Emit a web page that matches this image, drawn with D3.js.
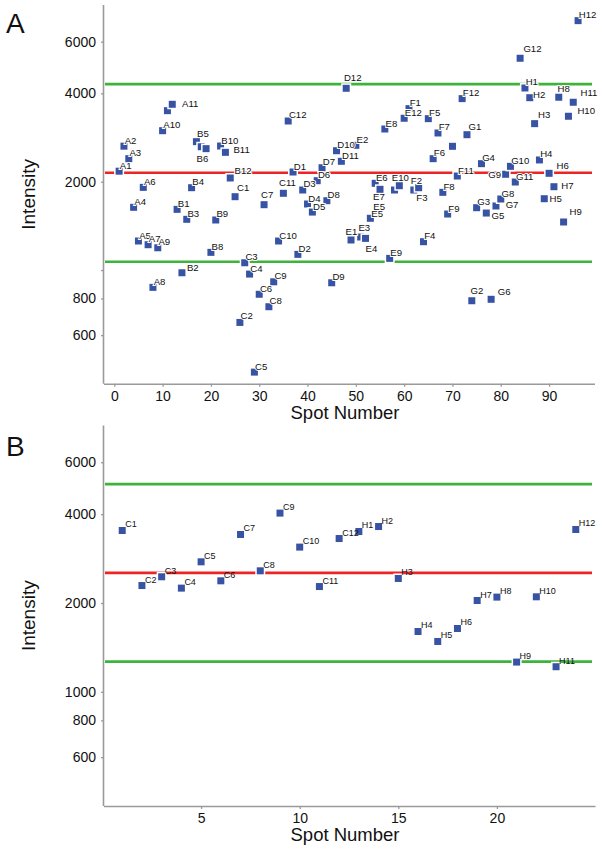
<!DOCTYPE html>
<html><head><meta charset="utf-8">
<script src="https://cdn.jsdelivr.net/npm/d3@7"></script>
<style>
body{margin:0;background:#fff;}
svg{display:block;font-family:"Liberation Sans",Arial,Helvetica,sans-serif;}
</style>
</head><body>
<svg id="chart" width="602" height="853"></svg>
<script>
// ---------------- DATA ----------------
const rows = ["A","B","C","D","E","F","G","H"];
const wellsA = rows.flatMap(r => d3.range(1, 13).map(c => r + c));
const valuesA = [
  2172, 2643, 2396, 1636, 1256, 1913, 1220, 873, 1191, 2984, 3492, 3671,
  1610, 979, 1489, 1908, 2738, 2631, 2592, 1149, 1481, 2646, 2518, 2059,
  1778, 663, 1059, 969, 449, 827, 1670, 750, 912, 1256, 1826, 3220,
  2158, 1131, 1874, 1679, 1576, 2016, 2232, 1723, 905, 2550, 2347, 4162,
  1266, 2661, 1296, 1282, 1501, 1975, 1884, 3024, 1096, 1874, 1938, 3290,
  3548, 1874, 1908, 1249, 3280, 2396, 2931, 1840, 1552, 2640, 2091, 3838,
  2892, 786, 1631, 2304, 1564, 795, 1653, 1746, 2120, 2256, 1995, 5268,
  4172, 3866, 3154, 2372, 1750, 2136, 1923, 3880, 1458, 3342, 3730, 7076
];
const thresholdsA = { upper: 4300, mean: 2146, lower: 1067 };

const wellsB = ["C1","C2","C3","C4","C5","C6","C7","C8","C9","C10","C11","C12",
                "H1","H2","H3","H4","H5","H6","H7","H8","H9","H10","H11","H12"];
const valuesB = [3522, 2292, 2454, 2246, 2758, 2378, 3414, 2571, 4034, 3094, 2274, 3308,
                 3495, 3633, 2422, 1601, 1481, 1639, 2039, 2094, 1261, 2099, 1216, 3550];
const thresholdsB = { upper: 5060, mean: 2530, lower: 1265 };

const yTicks = [600, 800, 1000, 2000, 4000, 6000];
const yTickLabelsA = ["600", "800", "", "2000", "4000", "6000"];
const yTickLabelsB = ["600", "800", "1000", "2000", "4000", "6000"];
const xTicksA = [0, 10, 20, 30, 40, 50, 60, 70, 80, 90];
const xTicksB = [5, 10, 15, 20];
const hiddenLabelsA = ["A12", "B7", "E11", "F10"];
const extraLabelsA = [{ well: "E5", text: "E5" }];

// ---------------- LAYOUT (label placement, not data) ----------------
const defaultOffA = [0.7, -2.5];
const labelOffA = {
  A11:[14.6,-3.4], B2:[5,-2], B5:[0.7,-4.4], B6:[-4.7,15.6], B11:[8,0.5], B12:[4.3,-4],
  C1:[2,-5.4], C2:[0.7,-3.3], C7:[-3,-6.7], C11:[-4.4,-7.6], D12:[-2.3,-7.6],
  E1:[-5.4,-5], E3:[-2.3,-6], E4:[0,14], E5:[1,-1.6], E7:[-7,10.7], E10:[-2.7,-9.3],
  F2:[-3,-6], F3:[-2.3,13], G1:[1.6,-4.7], G2:[-1.3,-6.4], G5:[5.3,6], G6:[6.7,-4],
  G7:[9.7,2], G9:[-17.3,3.4], G12:[3.3,-6.6], H2:[3.3,0.3], H3:[3.4,-5.7], H5:[5.3,3.3],
  H6:[7.4,-4], H7:[7.3,2], H8:[-1.3,-5.3], H9:[6,-7], H10:[9,-2.3], H11:[7.3,-6.3]
};
const extraOffA = { E5: [3, -8] };

const svg = d3.select("#chart");
const markerColor = "#3953a4";
const axisColor = "#9a9a9a";

function drawPanel(cfg) {
  const g = svg.append("g");
  const x = d3.scaleLinear().domain(cfg.xDomain).range([cfg.left, cfg.right]);
  const y = d3.scaleLog().domain([410, 8000]).range([cfg.bottom, cfg.top]);

  // threshold lines
  const th = cfg.thresholds;
  [["upper", "#3cb43c"], ["lower", "#3cb43c"], ["mean", "#ee2424"]].forEach(([k, col]) => {
    g.append("line")
      .attr("x1", cfg.left + 1).attr("x2", cfg.lineEnd)
      .attr("y1", y(th[k])).attr("y2", y(th[k]))
      .attr("stroke", col).attr("stroke-width", 2.6);
  });

  // axes
  const yAxis = d3.axisLeft(y).tickValues(yTicks)
    .tickFormat((d, i) => cfg.yLabels[i]).tickSize(3).tickPadding(5);
  const ya = g.append("g").attr("transform", `translate(${cfg.left},0)`).call(yAxis);
  const xAxis = d3.axisBottom(x).tickValues(cfg.xTicks).tickSize(3).tickPadding(4);
  const xa = g.append("g").attr("transform", `translate(0,${cfg.bottom})`).call(xAxis);
  [ya, xa].forEach(a => {
    a.select(".domain").attr("stroke", axisColor).attr("stroke-width", 1.6);
    a.selectAll(".tick line").attr("stroke", axisColor).attr("stroke-width", 1.3);
    a.selectAll(".tick text").attr("fill", "#111").style("font-size", "14px")
      .style("font-family", '"Liberation Sans",Arial,sans-serif');
  });
  ya.select(".domain").attr("d", `M-0.5,${cfg.bottom}V${cfg.top}`);
  xa.select(".domain").attr("d", `M${cfg.left},0.5H${cfg.right}`);

  // titles
  g.append("text").attr("x", cfg.titleX).attr("y", cfg.bottom + 35)
    .attr("text-anchor", "middle").style("font-size", "18.5px").attr("fill", "#111")
    .text("Spot Number");
  g.append("text")
    .attr("transform", `translate(35,${(cfg.top + cfg.bottom) / 2}) rotate(-90)`)
    .attr("text-anchor", "middle").style("font-size", "19px").attr("fill", "#111")
    .text("Intensity");
  g.append("text").attr("x", 6).attr("y", cfg.letterY)
    .style("font-size", "28px").attr("fill", "#111").text(cfg.letter);

  // points
  const pts = cfg.wells.map((w, i) => ({ well: w, spot: i + 1, value: cfg.values[i] }));
  const s = 7;
  const pg = g.append("g");
  pts.forEach(p => {
    pg.append("rect")
      .attr("x", x(p.spot) - s / 2).attr("y", y(p.value) - s / 2)
      .attr("width", s).attr("height", s)
      .attr("fill", markerColor).attr("stroke", "#fff").attr("stroke-width", 3)
      .style("paint-order", "stroke");
  });

  // labels
  const lg = g.append("g").style("font-size", cfg.labelSize + "px").attr("fill", "#111");
  pts.forEach(p => {
    if (cfg.hidden.includes(p.well)) return;
    const off = cfg.offsets[p.well] || cfg.defaultOff;
    const t = lg.append("text")
      .attr("x", x(p.spot) + off[0]).attr("y", y(p.value) + off[1]).text(p.well);
    if (cfg.halo) t.attr("stroke", "#fff").attr("stroke-width", 2).style("paint-order", "stroke");
  });
  cfg.extras.forEach(e => {
    const p = pts.find(q => q.well === e.well);
    const off = cfg.extraOff[e.well];
    lg.append("text").attr("x", x(p.spot) + off[0]).attr("y", y(p.value) + off[1]).text(e.text)
      .attr("stroke", "#fff").attr("stroke-width", 2).style("paint-order", "stroke");
  });
}

drawPanel({
  letter: "A", letterY: 32.7,
  left: 104, right: 595, top: 5, bottom: 383.7, lineEnd: 592,
  xDomain: [-2.13, 99.5], xTicks: xTicksA, yLabels: yTickLabelsA,
  wells: wellsA, values: valuesA, thresholds: thresholdsA,
  offsets: labelOffA, defaultOff: defaultOffA, hidden: hiddenLabelsA,
  extras: extraLabelsA, extraOff: extraOffA, labelSize: 9.6, halo: true, titleX: 345
});

drawPanel({
  letter: "B", letterY: 456,
  left: 104, right: 595.5, top: 425.4, bottom: 806, lineEnd: 592,
  xDomain: [0.076, 25], xTicks: xTicksB, yLabels: yTickLabelsB,
  wells: wellsB, values: valuesB, thresholds: thresholdsB,
  offsets: {}, defaultOff: [3, -3], hidden: [],
  extras: [], extraOff: {}, labelSize: 9, halo: false, titleX: 345
});
</script>
</body></html>
